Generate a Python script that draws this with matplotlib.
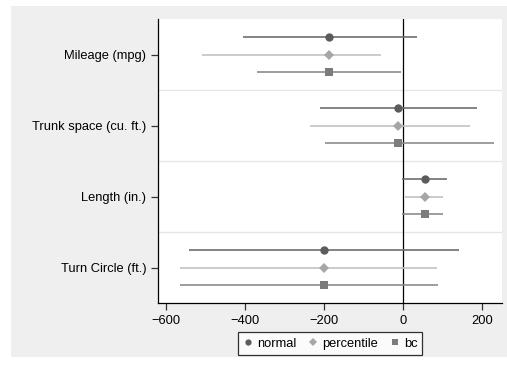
import matplotlib
matplotlib.use('Agg')
import matplotlib.pyplot as plt
from matplotlib.patches import Rectangle
from matplotlib.lines import Line2D
import numpy as np

plt.rcParams.update({'font.size': 9.3})
plt.rcParams.update({'font.family': ['Liberation Sans', 'DejaVu Sans']})

# variables, top to bottom
variables = ['Mileage (mpg)', 'Trunk space (cu. ft.)', 'Length (in.)', 'Turn Circle (ft.)']
series = ['normal', 'percentile', 'bc']

# point estimates (same for all three CI types)
estimate = [-187, -13, 54, -201]

# confidence interval bounds per series
lower = {
    'normal':     [-407, -211, -2, -543],
    'percentile': [-509, -236, 4, -566],
    'bc':         [-370, -197, -2, -566],
}
upper = {
    'normal':     [34, 186, 111, 142],
    'percentile': [-57, 169, 101, 86],
    'bc':         [-5, 229, 101, 88],
}

marker_color = {'normal': '#5c5c5c', 'percentile': '#a6a6a6', 'bc': '#7c7c7c'}
line_color = {'normal': '#6e6e6e', 'percentile': '#c2c2c2', 'bc': '#8c8c8c'}
markers = {'normal': 'o', 'percentile': 'D', 'bc': 's'}
msize = {'normal': 6, 'percentile': 5.5, 'bc': 6}
offsets = {'normal': -0.25, 'percentile': 0.0, 'bc': 0.25}

fig = plt.figure(figsize=(5.07, 3.67), dpi=100)
fig.patch.set_facecolor('white')
# gray graph region like stata
fig.patches.append(Rectangle((11 / 507, 1 - 357 / 367), 1 - 11 / 507, (357 - 6) / 367,
                             transform=fig.transFigure, facecolor='#efefef',
                             edgecolor='none', zorder=-1))

ax = fig.add_axes([158 / 507, 1 - 303 / 367, (502 - 158) / 507, (303 - 19) / 367])
ax.set_facecolor('white')

pos = np.arange(1, len(variables) + 1)

# separators between groups
for b in pos[:-1] + 0.5:
    ax.axhline(b, color='#e6e6e6', lw=1, zorder=1)

ax.axvline(0, color='black', lw=0.9, zorder=2)

for s in series:
    y = pos + offsets[s]
    ax.hlines(y, lower[s], upper[s], color=line_color[s], lw=1.2, zorder=3)
    ax.plot(estimate, y, linestyle='None', marker=markers[s], markersize=msize[s],
            color=marker_color[s], markeredgewidth=0, zorder=4)

ax.set_ylim(4.5, 0.5)
ax.set_xlim(-621, 250)
ax.set_yticks(pos)
ax.set_yticklabels(variables)
ax.set_xticks([-600, -400, -200, 0, 200])
ax.set_xticklabels(['\u2212600', '\u2212400', '\u2212200', '0', '200'])

for side in ['top', 'right']:
    ax.spines[side].set_visible(False)
ax.spines['left'].set_linewidth(0.9)
ax.spines['bottom'].set_linewidth(0.9)
ax.tick_params(axis='both', length=5, width=0.9, color='#333333', labelcolor='black')

handles = [Line2D([], [], linestyle='None', marker=markers[s], markersize=msize[s] - 1.5,
                  color=marker_color[s], markeredgewidth=0) for s in series]
leg = fig.legend(handles, series, loc='center', bbox_to_anchor=(330 / 507, 1 - 343.5 / 367),
                 ncol=3, frameon=True, fancybox=False, handletextpad=0.3,
                 columnspacing=0.9, handlelength=0.8, borderpad=0.4)
leg.get_frame().set_edgecolor('black')
leg.get_frame().set_linewidth(0.9)
leg.get_frame().set_facecolor('white')

plt.savefig('out.png', dpi=100)
